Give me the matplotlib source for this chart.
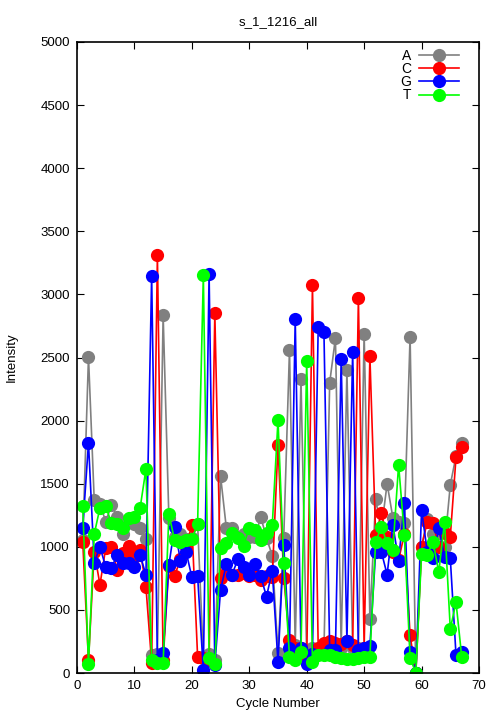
import matplotlib
matplotlib.use("Agg")
import matplotlib.pyplot as plt
import numpy as np

plt.rcParams['font.family'] = ['Liberation Sans', 'DejaVu Sans']

cycles = list(range(1, 68))

A = [1050, 2505, 1370, 1340, 1200, 1330, 1240, 1100, 1200, 1180,
     1150, 1060, 145, 150, 2835, 1230, 1080, 1100, 1060, 1070,
     1180, 130, 150, 100, 1560, 1150, 1150, 1080, 1100, 1080,
     1080, 1236, 1070, 930, 160, 1070, 2560, 220, 2330, 130,
     200, 170, 180, 2300, 2655, 200, 2400, 200, 200, 2690,
     430, 1375, 1140, 1500, 1230, 1200, 1190, 2665, 0, 1000,
     1220, 1100, 1110, 1000, 1490, 1720, 1825]

C = [1040, 100, 960, 700, 990, 1000, 820, 950, 1010, 920,
     975, 685, 80, 3310, 100, 850, 770, 900, 1000, 1175,
     130, 120, 100, 2850, 750, 790, 780, 780, 790, 770,
     780, 740, 770, 760, 1810, 755, 260, 200, 200, 100,
     3075, 200, 240, 250, 240, 230, 250, 220, 2970, 200,
     2510, 1095, 1265, 1080, 960, 895, 1100, 300, 0, 1000,
     1200, 1190, 1000, 1110, 1080, 1710, 1790]

G = [1150, 1825, 875, 1000, 840, 835, 935, 870, 870, 840,
     935, 776, 3145, 100, 160, 855, 1160, 890, 960, 760,
     770, 20, 3165, 60, 660, 860, 780, 900, 840, 780,
     860, 765, 605, 810, 85, 1015, 200, 2805, 200, 70,
     150, 2740, 2700, 180, 180, 2490, 250, 2545, 180, 200,
     210, 960, 960, 780, 1175, 890, 1350, 170, 0, 1290,
     960, 910, 1150, 920, 910, 140, 170]

T = [1320, 70, 1100, 1310, 1320, 1190, 1180, 1150, 1230, 1240,
     1310, 1615, 100, 80, 80, 1260, 1050, 1040, 1050, 1060,
     1180, 3150, 120, 70, 990, 1030, 1110, 1070, 1010, 1150,
     1135, 1050, 1110, 1170, 2005, 870, 130, 100, 170, 2470,
     90, 140, 140, 140, 130, 120, 110, 110, 120, 130,
     130, 1040, 1160, 1030, 975, 1650, 1095, 120, 0, 945,
     935, 1040, 800, 1200, 350, 560, 125]

labels = ['A', 'C', 'G', 'T']
colors = ['#808080', '#ff0000', '#0000ff', '#00ff00']
series = [A, C, G, T]

fig = plt.figure(figsize=(5.04, 7.2), dpi=100)
ax = fig.add_axes([77/504, 47/720, 402/504, 631/720])

for lab, col, vals in zip(labels, colors, series):
    ax.plot(cycles, vals, color=col, lw=1.2, marker='o', ms=9.5,
            markeredgewidth=0, label=lab)

ax.set_xlim(0, 70)
ax.set_ylim(0, 5000)
ax.set_xticks(np.arange(0, 71, 10))
ax.set_yticks(np.arange(0, 5001, 500))
ax.tick_params(direction='in', top=True, right=True, length=5, width=0.8,
               labelsize=9.5, pad=5)
for s in ax.spines.values():
    s.set_linewidth(1.2)
ax.set_xlabel('Cycle Number', fontsize=9.5, labelpad=4)
ax.set_ylabel('Intensity', fontsize=9.5, labelpad=16)
ax.set_title('s_1_1216_all', fontsize=9.5, pad=12)

leg = ax.legend(loc='upper right', bbox_to_anchor=(1 - 14/402, 1 - 1/631),
                frameon=False, markerfirst=False, fontsize=10,
                handlelength=2.9, labelspacing=-0.05, handletextpad=0.6,
                borderaxespad=0.0)
for t in leg.get_texts():
    t.set_ha('right')

fig.savefig('out.png', dpi=100)
